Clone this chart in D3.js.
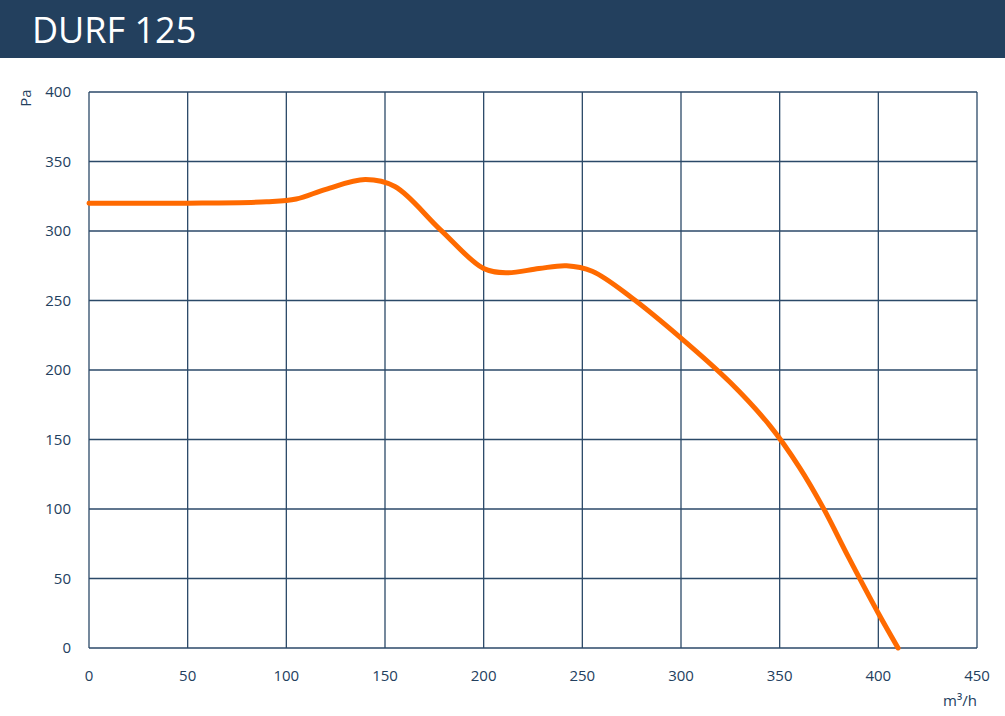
<!DOCTYPE html>
<html><head><meta charset="utf-8">
<script src="https://cdn.jsdelivr.net/npm/d3@7"></script>
<style>body{margin:0;background:#fff}svg{display:block}</style>
</head><body>
<svg id="c" width="1005" height="716"></svg>
<script>
const title = "DURF 125";
const xTicks = [0,50,100,150,200,250,300,350,400,450];
const yTicks = [0,50,100,150,200,250,300,350,400];
const flow = [0, 50, 90, 105, 120, 140, 155, 178, 200, 212, 228, 242, 255, 275, 300, 325, 345, 360, 372, 385, 400, 410];
const pressure = [320, 320, 321, 323, 330, 337, 332, 301, 273, 270, 273, 275, 271, 252, 223, 191, 160, 130, 101, 65, 25, 0];

const svg = d3.select("#c");
const dark = "#23405e";
svg.append("rect").attr("x",0).attr("y",0).attr("width",1005).attr("height",58).attr("fill",dark);
svg.append("text").attr("x",32).attr("y",43).attr("fill","#fff")
  .attr("font-family","'Open Sans', sans-serif").attr("font-size",36).text(title);

const x = d3.scaleLinear().domain([0,450]).range([89,977]);
const y = d3.scaleLinear().domain([0,400]).range([648,92]);
const g = svg.append("g");
g.selectAll("line.v").data(xTicks).join("line")
  .attr("x1",d=>x(d)).attr("x2",d=>x(d)).attr("y1",y(0)).attr("y2",y(400))
  .attr("stroke","#2b4968").attr("stroke-width",1.3);
g.selectAll("line.h").data(yTicks).join("line")
  .attr("y1",d=>y(d)).attr("y2",d=>y(d)).attr("x1",x(0)).attr("x2",x(450))
  .attr("stroke","#2b4968").attr("stroke-width",1.3);

const font = "'Open Sans', sans-serif";
g.selectAll("text.xl").data(xTicks).join("text")
  .attr("x",d=>x(d)).attr("y",681).attr("text-anchor","middle")
  .attr("font-family",font).attr("font-size",15).attr("fill",dark).text(d=>d);
g.selectAll("text.yl").data(yTicks).join("text")
  .attr("x",71).attr("y",d=>y(d)+5).attr("text-anchor","end")
  .attr("font-family",font).attr("font-size",15).attr("fill",dark).text(d=>d);
svg.append("text").attr("transform","translate(31,98) rotate(-90)").attr("text-anchor","middle")
  .attr("font-family",font).attr("font-size",15).attr("fill",dark).text("Pa");
svg.append("text").attr("x",960).attr("y",706).attr("text-anchor","middle")
  .attr("font-family",font).attr("font-size",15).attr("fill",dark).text("m³/h");

const pts = flow.map((f,i)=>[f,pressure[i]]);
const line = d3.line().x(d=>x(d[0])).y(d=>y(d[1])).curve(d3.curveCatmullRom.alpha(0.5));
svg.append("path").datum(pts).attr("d",line).attr("fill","none")
  .attr("stroke","#ff6a00").attr("stroke-width",5).attr("stroke-linecap","round");
</script>
</body></html>
